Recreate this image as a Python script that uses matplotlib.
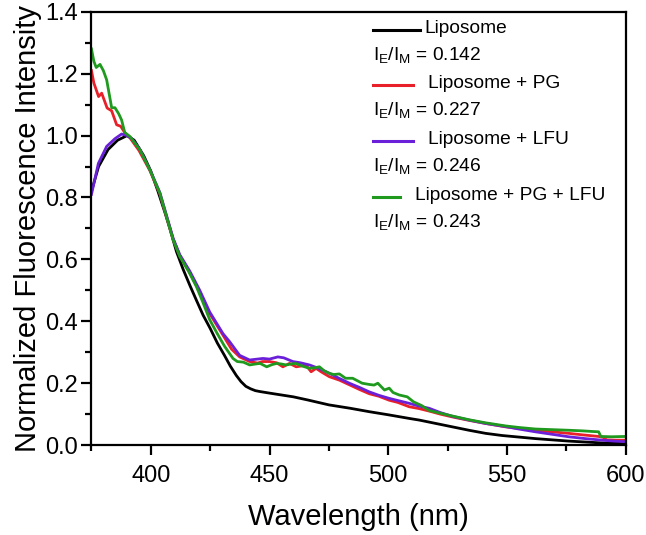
import matplotlib.pyplot as plt
from matplotlib.ticker import MultipleLocator

plt.rcParams['font.family'] = ['Liberation Sans', 'DejaVu Sans']

# datos
wl_lipo = [375, 378, 382, 386, 390, 393, 397, 400, 403, 406, 408, 410.8, 413.6,
           416.5, 419.2, 422, 425, 428, 431, 433.5, 436, 438, 440, 442, 444,
           446, 450, 455, 460, 466, 475, 484, 492, 500, 509, 513, 520, 527,
           534, 541, 548, 555, 562, 569, 576, 583, 590, 600]
lipo = [0.82, 0.90, 0.955, 0.985, 1.0, 0.985, 0.935, 0.885, 0.82, 0.75, 0.70, 0.625, 0.568,
        0.515, 0.468, 0.42, 0.377, 0.33, 0.29, 0.255, 0.225, 0.205, 0.19, 0.182, 0.176,
        0.173, 0.168, 0.162, 0.156, 0.146, 0.13, 0.119, 0.108, 0.098, 0.086, 0.081, 0.07, 0.059,
        0.048, 0.038, 0.031, 0.026, 0.021, 0.017, 0.013, 0.01, 0.007, 0.005]

wl_pg = [375, 376, 378, 379.3, 381.6, 383.5, 385.6, 387.3, 389, 391, 395, 399.6, 403.8,
         406.6, 409.4, 412.2, 416.4, 420.6, 424.8, 430.4, 434, 437.4, 441.6, 445, 447,
         450, 453, 455.6, 458.4, 461.2, 465.4, 467.5, 469.6, 471.7, 475.2, 479.4, 483.6,
         487.8, 492, 496, 500.4, 504, 508.8, 513, 517.2, 522, 527, 534, 541, 549.4, 555,
         562, 569, 576, 582, 588.6, 590.5, 592, 596, 600]
pg = [1.21, 1.17, 1.126, 1.137, 1.089, 1.08, 1.035, 1.03, 1.01, 0.995, 0.952, 0.887, 0.812,
      0.738, 0.665, 0.612, 0.557, 0.495, 0.425, 0.355, 0.31, 0.285, 0.27, 0.265, 0.27,
      0.27, 0.266, 0.253, 0.264, 0.253, 0.258, 0.237, 0.248, 0.237, 0.221, 0.21, 0.195,
      0.18, 0.166, 0.158, 0.145, 0.138, 0.124, 0.118, 0.11, 0.1, 0.091, 0.08, 0.07, 0.059, 0.054,
      0.048, 0.043, 0.038, 0.033, 0.028, 0.025, 0.017, 0.016, 0.016]

wl_lfu = [375, 377.9, 381.4, 384.9, 387.7, 390, 392, 395.4, 399.6, 403.8, 406.6, 409.4,
          412.2, 416.4, 420.6, 424.8, 430.4, 433.2, 437.4, 441.6, 447.2, 450, 453.5, 456,
          459.8, 463, 466.8, 471, 475.2, 479, 483.6, 488, 492, 496, 500.4, 504.6, 508.8,
          513, 517.2, 522, 527, 534, 541, 549.4, 555, 562, 569, 576, 583, 590, 595, 600]
lfu = [0.81, 0.91, 0.965, 0.99, 1.005, 1.0, 0.99, 0.955, 0.89, 0.816, 0.742, 0.668,
       0.615, 0.562, 0.5, 0.43, 0.36, 0.334, 0.29, 0.275, 0.28, 0.278, 0.285, 0.282,
       0.27, 0.266, 0.259, 0.247, 0.232, 0.217, 0.2, 0.186, 0.172, 0.161, 0.151, 0.143, 0.135,
       0.126, 0.119, 0.105, 0.093, 0.081, 0.07, 0.06, 0.052, 0.043, 0.035, 0.027, 0.021, 0.016, 0.013, 0.011]

wl_pglfu = [375, 376, 377, 378.6, 380, 381.4, 383.5, 384.9, 386.5, 387.7, 389, 391.2,
            395.4, 399.6, 403.8, 406.6, 409.4, 412.2, 416, 419.2, 422, 424.8, 428, 431,
            434.6, 436.4, 439, 441.6, 444, 446, 448.8, 451, 453, 455, 457, 459, 461, 464,
            466.8, 469, 471, 473, 475.2, 477, 479.4, 482, 485, 489, 492, 494, 495.6, 498.4,
            500.4, 502, 504.6, 508, 510.6, 514, 517.2, 522, 527, 534, 541, 549.4, 555, 562,
            569, 576, 582, 586, 588.6, 589.5, 594, 600]
pglfu = [1.28, 1.24, 1.22, 1.23, 1.21, 1.18, 1.09, 1.09, 1.07, 1.05, 1.01, 0.997,
         0.954, 0.889, 0.814, 0.738, 0.663, 0.609, 0.56, 0.512, 0.46, 0.405, 0.36, 0.32,
         0.28, 0.27, 0.268, 0.259, 0.262, 0.264, 0.253, 0.26, 0.264, 0.262, 0.259, 0.262, 0.264, 0.255,
         0.248, 0.25, 0.253, 0.24, 0.232, 0.228, 0.23, 0.216, 0.216, 0.2, 0.196, 0.194, 0.2, 0.178,
         0.184, 0.17, 0.162, 0.156, 0.14, 0.128, 0.112, 0.103, 0.094, 0.082, 0.072, 0.062, 0.057, 0.052,
         0.05, 0.048, 0.046, 0.044, 0.043, 0.028, 0.027, 0.028]

series = [
    (wl_lipo, lipo, 'black', 'Liposome', '0.142'),
    (wl_pg, pg, '#e8202a', 'Liposome + PG', '0.227'),
    (wl_lfu, lfu, '#6a1fd8', 'Liposome + LFU', '0.246'),
    (wl_pglfu, pglfu, '#1f9a1f', 'Liposome + PG + LFU', '0.243'),
]

fig = plt.figure(figsize=(6.46, 5.35), dpi=100)
ax = fig.add_axes([0.1416, 0.168, 0.827, 0.810])

for x, y, c, name, ratio in series:
    ax.plot(x, y, color=c, lw=2.0)

ax.set_xlim(375, 600)
ax.set_ylim(0, 1.4)
ax.xaxis.set_major_locator(MultipleLocator(50))
ax.xaxis.set_minor_locator(MultipleLocator(25))
ax.yaxis.set_major_locator(MultipleLocator(0.2))
ax.yaxis.set_minor_locator(MultipleLocator(0.1))
ax.yaxis.set_major_formatter(plt.FuncFormatter(lambda v, p: f'{v:.1f}'))
ax.tick_params(which='both', direction='out', width=1.6, labelsize=17,
               top=False, right=False)
ax.tick_params(which='major', length=7)
ax.tick_params(which='minor', length=4.5)
ax.tick_params(axis='x', pad=7)
ax.tick_params(axis='y', pad=3)
for s in ax.spines.values():
    s.set_linewidth(1.6)

ax.set_xlabel('Wavelength (nm)', fontsize=21, labelpad=12)
ax.set_ylabel('Normalized Fluorescence Intensity', fontsize=21, labelpad=2)

# leyenda manual
tr = ax.transAxes
x0 = (373 - 91.5) / 534.5
ylines = [30, 85, 141, 197]
ends = [420, 413, 413, 400]
text_x = [425, 428, 428, 415]
for i, (x, y, c, name, ratio) in enumerate(series):
    yy = 1 - (ylines[i] - 12) / 433
    ax.plot([x0, (ends[i] - 91.5) / 534.5], [yy, yy], color=c, lw=2.2,
            transform=tr, clip_on=False)
    ax.text((text_x[i] - 91.5) / 534.5, yy + 0.004, name, transform=tr,
            fontsize=13.8, va='center', ha='left')
    yr = 1 - (ylines[i] + 26 - 12) / 433
    ax.text(x0, yr, r'I$_\mathregular{E}$/I$_\mathregular{M}$ = ' + ratio,
            transform=tr, fontsize=13.8, va='center', ha='left')

fig.savefig('out.png', dpi=100)
